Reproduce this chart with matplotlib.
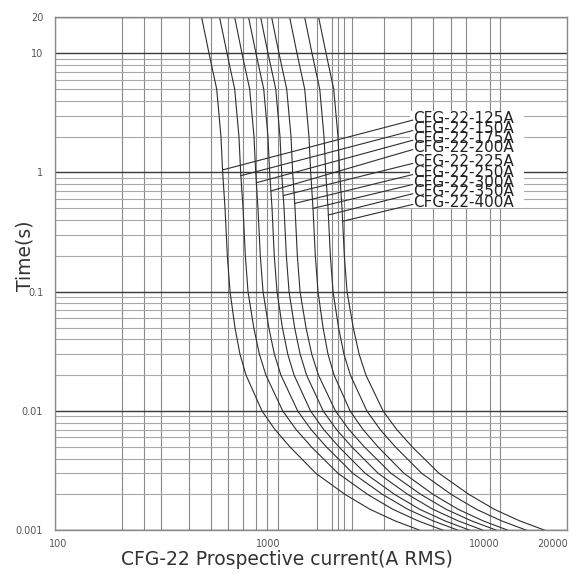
import numpy as np
import matplotlib.pyplot as plt
import matplotlib.transforms as mtransforms
from matplotlib.patches import Rectangle
from matplotlib.ticker import FixedLocator, LogLocator, NullFormatter

# time axis (s) shared by every curve
times = [20, 10, 5, 2, 1, 0.5, 0.2, 0.1, 0.05, 0.03, 0.02, 0.01,
         0.007, 0.005, 0.003, 0.002, 0.0015, 0.0012, 0.001]

# prospective current (A rms) at those times
cfg_125 = [456, 492, 533, 557, 567, 581, 595, 612, 644, 678, 722, 852,
           974, 1138, 1489, 2011, 2605, 3374, 4370]
cfg_150 = [549, 593, 642, 671, 683, 700, 717, 737, 782, 829, 887, 1056,
           1212, 1421, 1872, 2540, 3301, 4285, 5563]
cfg_175 = [642, 692, 750, 784, 798, 817, 837, 861, 914, 968, 1036, 1233,
           1415, 1659, 2184, 2964, 3853, 5004, 6494]
cfg_200 = [741, 800, 867, 906, 922, 945, 967, 995, 1052, 1112, 1187, 1408,
           1613, 1889, 2481, 3359, 4358, 5655, 7333]
cfg_225 = [840, 906, 982, 1026, 1044, 1070, 1096, 1127, 1194, 1264, 1351, 1605,
           1841, 2158, 2837, 3848, 4996, 6485, 8412]
cfg_250 = [941, 1015, 1100, 1150, 1170, 1199, 1228, 1263, 1343, 1425, 1528, 1822,
           2094, 2458, 3240, 4405, 5728, 7443, 9666]
cfg_300 = [1134, 1223, 1325, 1385, 1410, 1444, 1479, 1521, 1602, 1686, 1796, 2120,
           2423, 2831, 3706, 5006, 6486, 8401, 10881]
cfg_350 = [1324, 1429, 1548, 1618, 1647, 1687, 1728, 1777, 1881, 1989, 2126, 2523,
           2893, 3388, 4452, 6034, 7833, 10163, 13184]
cfg_400 = [1531, 1652, 1789, 1870, 1903, 1950, 1997, 2054, 2190, 2327, 2497, 2984,
           3433, 4034, 5326, 7247, 9430, 12261, 15933]

ratings = ["CFG-22-125A", "CFG-22-150A", "CFG-22-175A", "CFG-22-200A", "CFG-22-225A",
           "CFG-22-250A", "CFG-22-300A", "CFG-22-350A", "CFG-22-400A"]
curves = [cfg_125, cfg_150, cfg_175, cfg_200, cfg_225, cfg_250, cfg_300, cfg_350, cfg_400]

# time on each curve where its leader line touches
leader_t = [1.05, 0.94, 0.82, 0.70, 0.64, 0.55, 0.50, 0.44, 0.39]

x_ticks = [100, 1000, 10000, 20000]
x_ticklabels = ["100", "1000", "10000", "20000"]
x_grid = [200, 250, 300, 400, 500, 600, 700, 800, 900, 1500, 1750, 1870, 2000, 2170,
          3000, 4000, 5000, 6000, 7000, 9000]
y_ticks = [0.001, 0.01, 0.1, 1, 10, 20]
y_ticklabels = ["0.001", "0.01", "0.1", "1", "10", "20"]

# label block layout (text anchor current, times of each row)
label_x = 4050
label_t = [2.86, 2.34, 1.94, 1.62, 1.24, 1.0, 0.826, 0.691, 0.562]
# small sideways nudges (px) of the x tick labels, as in the scan
x_label_shift = [3, -9, -16, -14]

small_font = ["Liberation Sans Narrow", "DejaVu Sans"]

fig = plt.figure(figsize=(5.7, 5.74), dpi=100)
ax = fig.add_axes([0.0965, 0.0761, 0.8982, 0.8938])
ax.set_xscale("log")
ax.set_yscale("log")
ax.set_xlim(100, 20000)
ax.set_ylim(0.001, 20)

ax.xaxis.set_major_locator(FixedLocator(x_ticks))
ax.xaxis.set_minor_locator(FixedLocator(x_grid))
ax.xaxis.set_minor_formatter(NullFormatter())
ax.set_xticklabels(x_ticklabels)
ax.yaxis.set_major_locator(FixedLocator(y_ticks))
ax.yaxis.set_minor_locator(LogLocator(base=10, subs=np.arange(2, 10), numticks=20))
ax.yaxis.set_minor_formatter(NullFormatter())
ax.set_yticklabels(y_ticklabels)

ax.xaxis.grid(True, which="both", color="#8a8a8a", lw=0.8)
ax.yaxis.grid(True, which="major", color="#3a3a3a", lw=1.0)
ax.yaxis.grid(True, which="minor", color="#a8a8a8", lw=0.8)
ax.set_axisbelow(True)

ax.tick_params(which="both", length=0)
ax.tick_params(axis="y", pad=8.5)
ax.tick_params(axis="x", pad=6)
for lab in ax.get_xticklabels() + ax.get_yticklabels():
    lab.set_fontsize(7)
    lab.set_color("#555555")
    lab.set_family(small_font)
for lab, dx in zip(ax.get_xticklabels(), x_label_shift):
    lab.set_transform(lab.get_transform() +
                      mtransforms.ScaledTranslation(dx / 100, 0, fig.dpi_scale_trans))

for sp in ax.spines.values():
    sp.set_color("#8a8a8a")
    sp.set_linewidth(1.0)

for cur in curves:
    ax.plot(cur, times, color="#2e2e2e", lw=0.8, zorder=2)

# white block behind the labels
ax.add_patch(Rectangle((label_x * 0.97, 0.5), 12800 - label_x * 0.97, 3.3 - 0.5,
                       facecolor="white", edgecolor="none", zorder=1.5))

# leader lines + labels
log_t = np.log10(times)[::-1]
for name, cur, lt, ty in zip(ratings, curves, leader_t, label_t):
    cx = 10 ** np.interp(np.log10(lt), log_t, np.log10(cur)[::-1])
    ax.plot([cx, label_x], [lt, ty * 0.96], color="#2e2e2e", lw=0.8, zorder=2)
    ax.text(label_x, ty, name, fontsize=11, color="#222222", ha="left", va="center",
            family="DejaVu Sans", zorder=3)

ax.set_xlabel("CFG-22 Prospective current(A RMS)", fontsize=13.5, color="#333333",
              family="DejaVu Sans")
ax.set_ylabel("Time(s)", fontsize=13.5, color="#333333", family="DejaVu Sans")
ax.xaxis.set_label_coords(0.453, -0.038)
ax.yaxis.set_label_coords(-0.040, 0.535)

fig.savefig("out.png", dpi=100)
